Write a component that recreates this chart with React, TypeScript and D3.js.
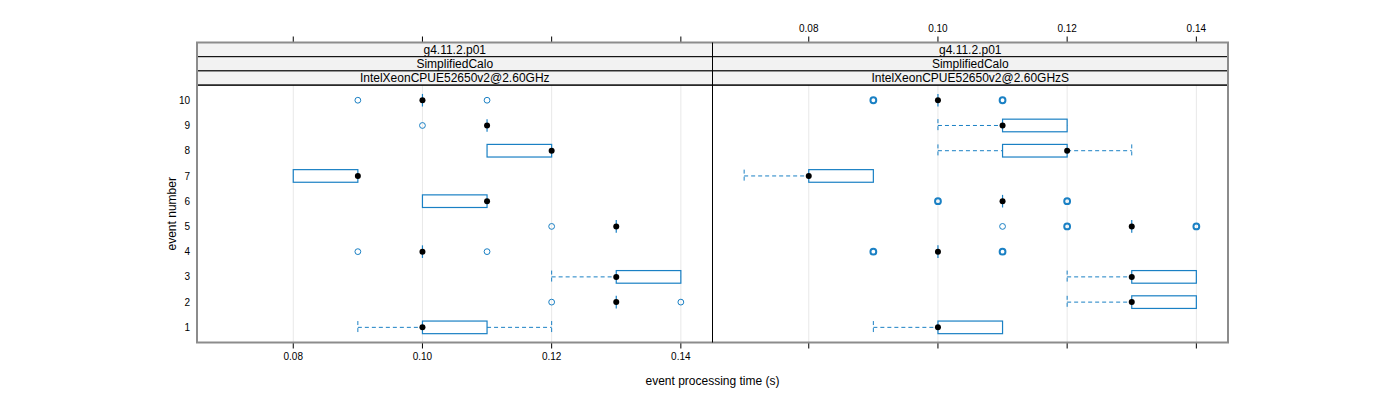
import * as d3 from "d3";

/* ------------------------------------------------------------------ */
/*  Data                                                               */
/* ------------------------------------------------------------------ */

const EVENTS = [1, 2, 3, 4, 5, 6, 7, 8, 9, 10];
const X_TICKS = [0.08, 0.1, 0.12, 0.14];
const STRIP_TOP = "g4.11.2.p01";
const STRIP_MID = "SimplifiedCalo";

// panel 1: IntelXeonCPUE52650v2@2.60GHz
const p1Lo = [0.09, 0.13, 0.12, 0.1, 0.13, 0.1, 0.08, 0.11, 0.11, 0.1];
const p1Q1 = [0.1, 0.13, 0.13, 0.1, 0.13, 0.1, 0.08, 0.11, 0.11, 0.1];
const p1Med = [0.1, 0.13, 0.13, 0.1, 0.13, 0.11, 0.09, 0.12, 0.11, 0.1];
const p1Q3 = [0.11, 0.13, 0.14, 0.1, 0.13, 0.11, 0.09, 0.12, 0.11, 0.1];
const p1Hi = [0.12, 0.13, 0.14, 0.1, 0.13, 0.11, 0.09, 0.12, 0.11, 0.1];
const p1Out = [[], [0.12, 0.14], [], [0.09, 0.11], [0.12], [], [], [], [0.1], [0.09, 0.11]];

// panel 2: IntelXeonCPUE52650v2@2.60GHzS
const p2Lo = [0.09, 0.12, 0.12, 0.1, 0.13, 0.11, 0.07, 0.1, 0.1, 0.1];
const p2Q1 = [0.1, 0.13, 0.13, 0.1, 0.13, 0.11, 0.08, 0.11, 0.11, 0.1];
const p2Med = [0.1, 0.13, 0.13, 0.1, 0.13, 0.11, 0.08, 0.12, 0.11, 0.1];
const p2Q3 = [0.11, 0.14, 0.14, 0.1, 0.13, 0.11, 0.09, 0.12, 0.12, 0.1];
const p2Hi = [0.11, 0.14, 0.14, 0.1, 0.13, 0.11, 0.09, 0.13, 0.12, 0.1];
const p2Out = [
  [], [], [],
  [0.09, 0.09, 0.11, 0.11],
  [0.11, 0.12, 0.12, 0.14, 0.14],
  [0.1, 0.1, 0.12, 0.12],
  [], [], [],
  [0.09, 0.09, 0.11, 0.11],
];

const PANELS = [
  { label: "IntelXeonCPUE52650v2@2.60GHz", lo: p1Lo, q1: p1Q1, med: p1Med, q3: p1Q3, hi: p1Hi, out: p1Out },
  { label: "IntelXeonCPUE52650v2@2.60GHzS", lo: p2Lo, q1: p2Q1, med: p2Med, q3: p2Q3, hi: p2Hi, out: p2Out },
];

/* ------------------------------------------------------------------ */
/*  Theme                                                              */
/* ------------------------------------------------------------------ */

const W = 1400;
const H = 400;
const BLUE = "#1a80c4";
const GRID = "#e8e8e8";
const FRAME = "#8c8c8c";
const STRIP_BG = "#f2f2f2";
const FONT = "'Liberation Sans', Arial, Helvetica, sans-serif";

const left = 197;
const right = 1228;
const top = 42.5;
const stripH = 14.2;
const panelTop = top + stripH * 3;
const bottom = 342.5;
const panelW = (right - left) / 2;

export default function App() {
  const y = d3.scaleLinear().domain([0.4, 10.6]).range([bottom, panelTop]);
  const boxH = (y(1) - y(2)) * 0.5;

  return (
    <div style={{ position: "absolute", left: 0, top: 0 }}>
      <svg width={W} height={H} style={{ display: "block", background: "#fff" }} fontFamily={FONT}>
        {PANELS.map((p, pi) => {
          const x0 = left + pi * panelW;
          const x = d3.scaleLinear().domain([0.0651, 0.1449]).range([x0, x0 + panelW]);
          const labelTop = pi === 1;
          return (
            <g key={p.label}>
              {/* grid */}
              {X_TICKS.map((t) => (
                <line key={t} x1={x(t)} x2={x(t)} y1={panelTop} y2={bottom} stroke={GRID} strokeWidth={1} />
              ))}

              {/* boxes */}
              {EVENTS.map((e, i) => {
                const cy = y(e);
                return (
                  <g key={e}>
                    <line x1={x(p.lo[i])} x2={x(p.q1[i])} y1={cy} y2={cy} stroke={BLUE} strokeDasharray="4 3" />
                    <line x1={x(p.q3[i])} x2={x(p.hi[i])} y1={cy} y2={cy} stroke={BLUE} strokeDasharray="4 3" />
                    {p.lo[i] < p.q1[i] && (
                      <line x1={x(p.lo[i])} x2={x(p.lo[i])} y1={cy - boxH / 2} y2={cy + boxH / 2} stroke={BLUE} strokeDasharray="4 3" />
                    )}
                    {p.hi[i] > p.q3[i] && (
                      <line x1={x(p.hi[i])} x2={x(p.hi[i])} y1={cy - boxH / 2} y2={cy + boxH / 2} stroke={BLUE} strokeDasharray="4 3" />
                    )}
                    <rect
                      x={x(p.q1[i])}
                      y={cy - boxH / 2}
                      width={x(p.q3[i]) - x(p.q1[i])}
                      height={boxH}
                      fill="none"
                      stroke={BLUE}
                      strokeWidth={1.2}
                    />
                    {p.q1[i] === p.q3[i] && (
                      <line x1={x(p.q1[i])} x2={x(p.q1[i])} y1={cy - boxH / 2} y2={cy + boxH / 2} stroke={BLUE} strokeWidth={1.2} />
                    )}
                    {Array.from(d3.rollup(p.out[i], (v) => v.length, (v) => v)).map(([v, n]) => (
                      <circle key={v} cx={x(v)} cy={cy} r={2.9} fill="none" stroke={BLUE} strokeWidth={n > 1 ? 2 : 1} />
                    ))}
                    <circle cx={x(p.med[i])} cy={cy} r={3} fill="#000" />
                  </g>
                );
              })}

              {/* strips */}
              {[STRIP_TOP, STRIP_MID, p.label].map((s, si) => (
                <g key={si}>
                  <rect x={x0} y={top + si * stripH} width={panelW} height={stripH} fill={STRIP_BG} stroke="#000" strokeWidth={1} />
                  <text
                    x={x0 + panelW / 2}
                    y={top + si * stripH + stripH / 2}
                    dy="0.36em"
                    textAnchor="middle"
                    fontSize={12}
                    fill="#000"
                  >
                    {s}
                  </text>
                </g>
              ))}

              {/* panel frame */}
              <rect x={x0} y={panelTop} width={panelW} height={bottom - panelTop} fill="none" stroke="#000" strokeWidth={1} />

              {/* x ticks top */}
              {X_TICKS.map((t) => (
                <g key={"t" + t}>
                  <line x1={x(t)} x2={x(t)} y1={top} y2={top - 6} stroke="#000" />
                  {labelTop && (
                    <text x={x(t)} y={top - 11} textAnchor="middle" fontSize={10} fill="#000">
                      {d3.format(".2f")(t)}
                    </text>
                  )}
                </g>
              ))}
              {/* x ticks bottom */}
              {X_TICKS.map((t) => (
                <g key={"b" + t}>
                  <line x1={x(t)} x2={x(t)} y1={bottom} y2={bottom + 6} stroke="#000" />
                  {!labelTop && (
                    <text x={x(t)} y={bottom + 14} dy="0.36em" textAnchor="middle" fontSize={10} fill="#000">
                      {d3.format(".2f")(t)}
                    </text>
                  )}
                </g>
              ))}
            </g>
          );
        })}

        {/* outer frame */}
        <rect x={left} y={top} width={right - left} height={bottom - top} fill="none" stroke={FRAME} strokeWidth={2} />
        <line x1={left + panelW} x2={left + panelW} y1={top} y2={bottom} stroke="#000" strokeWidth={1} />

        {/* y labels */}
        {EVENTS.map((e) => (
          <text key={e} x={190} y={y(e)} dy="0.36em" textAnchor="end" fontSize={10} fill="#000">
            {e}
          </text>
        ))}

        <text
          transform={`translate(172,${(panelTop + bottom) / 2}) rotate(-90)`}
          textAnchor="middle"
          dy="0.36em"
          fontSize={12}
          fill="#000"
        >
          event number
        </text>
        <text x={(left + right) / 2} y={381} dy="0.36em" textAnchor="middle" fontSize={12} fill="#000">
          event processing time (s)
        </text>
      </svg>
    </div>
  );
}
